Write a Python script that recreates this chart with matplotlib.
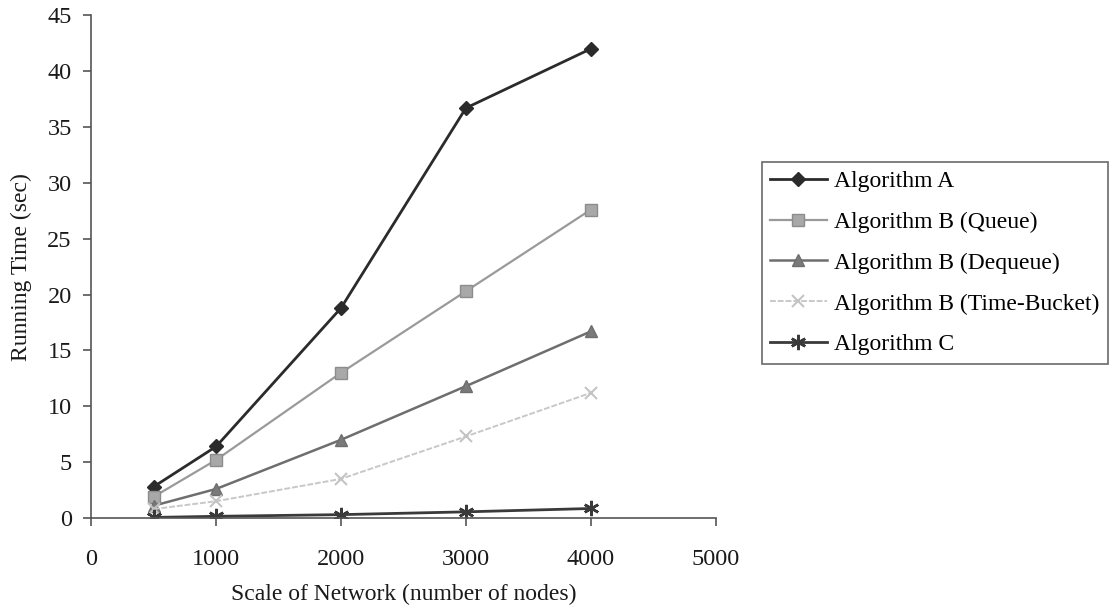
import matplotlib
matplotlib.use("Agg")
import matplotlib.pyplot as plt

plt.rcParams['font.family'] = ['Liberation Serif', 'DejaVu Serif']

nodes = [500, 1000, 2000, 3000, 4000]
algo_a = [2.8, 6.4, 18.8, 36.7, 42.0]
algo_b_queue = [1.9, 5.2, 13.0, 20.3, 27.6]
algo_b_dequeue = [1.1, 2.6, 7.0, 11.8, 16.7]
algo_b_bucket = [0.8, 1.5, 3.5, 7.3, 11.2]
algo_c = [0.05, 0.15, 0.3, 0.55, 0.85]

fig = plt.figure(figsize=(11.13, 6.13), dpi=100)
ax = fig.add_axes([0.082, 0.155, 0.561, 0.82])

ax.plot(nodes, algo_a, color='#2b2b2b', lw=2.0, marker='D', ms=7,
        label='Algorithm A')
ax.plot(nodes, algo_b_queue, color='#9a9a9a', lw=1.6, marker='s', ms=8,
        mfc='#a8a8a8', mec='#8c8c8c', label='Algorithm B (Queue)')
ax.plot(nodes, algo_b_dequeue, color='#6e6e6e', lw=1.8, marker='^', ms=9,
        mfc='#7a7a7a', label='Algorithm B (Dequeue)')
ax.plot(nodes, algo_b_bucket, color='#c8c8c8', lw=1.4, ls=(0, (3, 1)),
        marker='x', ms=9, mew=1.5, mec='#c4c4c4', label='Algorithm B (Time-Bucket)')
ax.plot(nodes, algo_c, color='#3a3a3a', lw=2.0, marker=(6, 2, 0), ms=11,
        mew=1.8, label='Algorithm C')

ax.set_xlim(0, 5000)
ax.set_ylim(0, 45)
ax.set_xticks(range(0, 5001, 1000))
ax.set_yticks(range(0, 46, 5))

for side in ('top', 'right'):
    ax.spines[side].set_visible(False)
for side in ('left', 'bottom'):
    ax.spines[side].set_color('#555555')
    ax.spines[side].set_linewidth(1.2)
ax.tick_params(direction='out', length=6, width=1.2, color='#555555',
               labelsize=17.5, labelcolor='#1a1a1a')
ax.tick_params(axis='y', pad=8)
ax.tick_params(axis='x', pad=16)

ax.set_xlabel('Scale of Network (number of nodes)', fontsize=17,
              color='#1a1a1a', labelpad=10)
ax.set_ylabel('Running Time (sec)', fontsize=17, color='#1a1a1a', labelpad=11)

leg = ax.legend(loc='upper left', bbox_to_anchor=(1.074, 0.708), fontsize=17,
                frameon=True, fancybox=False, handlelength=2.4,
                handletextpad=0.3, labelspacing=0.82, borderpad=0.35,
                borderaxespad=0)
leg.get_frame().set_edgecolor('#444444')
leg.get_frame().set_linewidth(1.2)

fig.savefig('out.png', dpi=100)
